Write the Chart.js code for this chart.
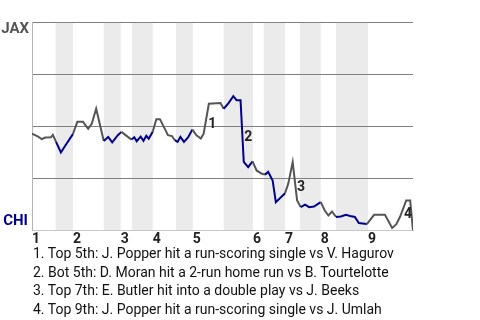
<!DOCTYPE html>
<html>
<head>
<meta charset="utf-8">
<script src="https://cdn.jsdelivr.net/npm/chart.js@4"></script>
<style>
  html, body { margin: 0; padding: 0; background: #fff; }
  #wrap { position: absolute; left: 0; top: 0; width: 480px; height: 252px; }
  #notes { position: absolute; left: 33px; top: 244px; font: 14px Roboto, sans-serif; line-height: 18.7px; color: #111; white-space: nowrap; }
</style>
</head>
<body>
<div id="wrap"><canvas id="c" width="480" height="252"></canvas></div>
<div id="notes"></div>
<script>
// play index (x) and JAX win probability in % (y)
const playX = [0,1.4,2.4,3.3,4.7,5.2, 6.0,7.2,8.6,10.2, 11.3,12.7,14.0,14.9,16.0,17.9, 19.0,20.0,21.4,22.3, 24.8,
  25.5,26.1,27.1,27.8,28.5,29.1,30.1, 31.0,31.9,33.9,34.9,35.6, 36.3,37.0,37.9,38.9,40.0,
  41.0,42.1,42.8,44.1,47.0,47.8, 49.0,50.2,51.0,52.0,52.8,53.9,55.0, 56.0,57.2,58.1,
  58.9,60.0,60.8,63.1, 63.9,65.0,66.1,67.0, 68.1,69.1,70.3,72.0, 73.0,73.9,74.8,75.8,
  77.0,78.3,79.3,80.5,81.5,83.5, 85.3,88.0,89.8,90.8,91.8,93.3,94.3,95.0];
const winPct = [46.5,45.2,43.8,44.6,44.7,45.9, 42.5,37.4,41.6,46.2, 52.1,52.1,48.8,51.2,58.4,42.9, 44.9,42.3,45.7,47.3, 43.6,
  44.7,42.8,45.0,43.0,45.4,44.0,47.4, 53.4,53.4,45.7,45.3,43.3, 42.5,44.9,42.5,44.6,48.4,
  45.7,44.1,46.4,60.8,61.1,58.4, 61.1,64.4,62.5,62.5,32.9,30.4,33.2, 28.8,27.3,26.8,
  28.1,24.0,13.6,17.9, 22.5,32.8,14.4,11.2, 12.4,11.2,11.5,13.6, 9.6,7.2,9.1,6.5,
  6.7,7.5,7.0,6.5,3.6,3.1, 7.5,7.5,1.2,2.9,6.7,14.4,14.4,0];
// half-inning boundaries (play index)
const topStarts = [0, 10.2, 22.1, 30.1, 40.1, 55.1, 63.1, 72.0, 83.8];
const botStarts = [5.9, 17.9, 24.9, 35.9, 47.8, 57.8, 66.8, 75.8];
const inningLabels = ['1','2','3','4','5','6','7','8','9'];
const xMax = 95;
const teams = ['JAX', 'CHI'];
// key plays: play index where the swing ends, and the description
const eventPlays = [44.1, 52.8, 66.1, 93.3];
const eventTexts = [
  '1. Top 5th: J. Popper hit a run-scoring single vs V. Hagurov',
  '2. Bot 5th: D. Moran hit a 2-run home run vs B. Tourtelotte',
  '3. Top 7th: E. Butler hit into a double play vs J. Beeks',
  '4. Top 9th: J. Popper hit a run-scoring single vs J. Umlah'
];

const GRAY = '#555555', NAVY = '#00008b', BAND = '#ebebeb';
const FONT = 'Roboto, "Liberation Sans", sans-serif';

document.getElementById('notes').innerHTML = eventTexts.map(t => '<div>' + t + '</div>').join('');

function bandEnd(i) { return i + 1 < topStarts.length ? topStarts[i + 1] : xMax; }
function inBottom(x) {
  for (let i = 0; i < botStarts.length; i++) {
    if (x >= botStarts[i] && x < bandEnd(i)) return true;
  }
  return false;
}

const bandsPlugin = {
  id: 'bands',
  beforeDraw(chart) {
    const { ctx, chartArea: a, scales: { x } } = chart;
    ctx.save();
    ctx.fillStyle = BAND;
    botStarts.forEach((s, i) => {
      const x0 = x.getPixelForValue(s), x1 = x.getPixelForValue(bandEnd(i));
      ctx.fillRect(x0, a.top, x1 - x0, a.bottom - a.top);
    });
    ctx.restore();
  }
};

const textPlugin = {
  id: 'texts',
  afterDatasetsDraw(chart) {
    const { ctx, chartArea: a } = chart;
    const meta = chart.getDatasetMeta(0);
    ctx.save();
    ctx.font = 'bold 15px ' + FONT;
    ctx.textAlign = 'right';
    ctx.textBaseline = 'middle';
    ctx.fillStyle = GRAY;
    ctx.fillText(teams[0], a.left - 3, a.top + 7);
    ctx.fillStyle = NAVY;
    ctx.fillText(teams[1], a.left - 4, a.bottom - 9.5);
    ctx.font = 'bold 14px ' + FONT;
    ctx.fillStyle = '#222';
    ctx.textAlign = 'left';
    ctx.textBaseline = 'top';
    eventPlays.forEach((p, k) => {
      const i = playX.indexOf(p);
      const p0 = meta.data[i - 1], p1 = meta.data[i];
      const mx = (p0.x + p1.x) / 2, my = (p0.y + p1.y) / 2;
      ctx.fillText(String(k + 1), Math.min(mx + 2, a.right - 9), my - 1);
    });
    ctx.restore();
  }
};

new Chart(document.getElementById('c'), {
  type: 'line',
  data: {
    datasets: [{
      data: playX.map((x, i) => ({ x, y: winPct[i] })),
      borderWidth: 2,
      pointRadius: 0,
      tension: 0,
      borderColor: GRAY,
      segment: {
        borderColor: c => inBottom((c.p0.parsed.x + c.p1.parsed.x) / 2) ? NAVY : GRAY
      }
    }]
  },
  options: {
    responsive: false,
    animation: false,
    events: [],
    layout: { padding: { left: 32, right: 67, top: 22, bottom: 3.5 } },
    plugins: { legend: { display: false }, tooltip: { enabled: false } },
    scales: {
      x: {
        type: 'linear', min: 0, max: xMax,
        grid: { display: false, drawTicks: false },
        border: { display: true, color: '#c8c8c8', width: 1 },
        afterBuildTicks: axis => { axis.ticks = topStarts.map(v => ({ value: v })); },
        ticks: {
          autoSkip: false, maxRotation: 0, align: 'start', padding: 2,
          color: '#222', font: { family: FONT, size: 14, weight: 'bold', lineHeight: 1 },
          callback: (v, i) => inningLabels[i]
        }
      },
      y: {
        min: 0, max: 100,
        afterBuildTicks: axis => { axis.ticks = [0, 25, 50, 75, 100].map(v => ({ value: v })); },
        grid: { drawTicks: false, color: c => c.tick.value === 0 ? 'rgba(0,0,0,0)' : '#808080', lineWidth: 1 },
        border: { display: true, color: '#b4b4b4', width: 1 },
        ticks: { display: false }
      }
    }
  },
  plugins: [bandsPlugin, textPlugin]
});
</script>
</body>
</html>
